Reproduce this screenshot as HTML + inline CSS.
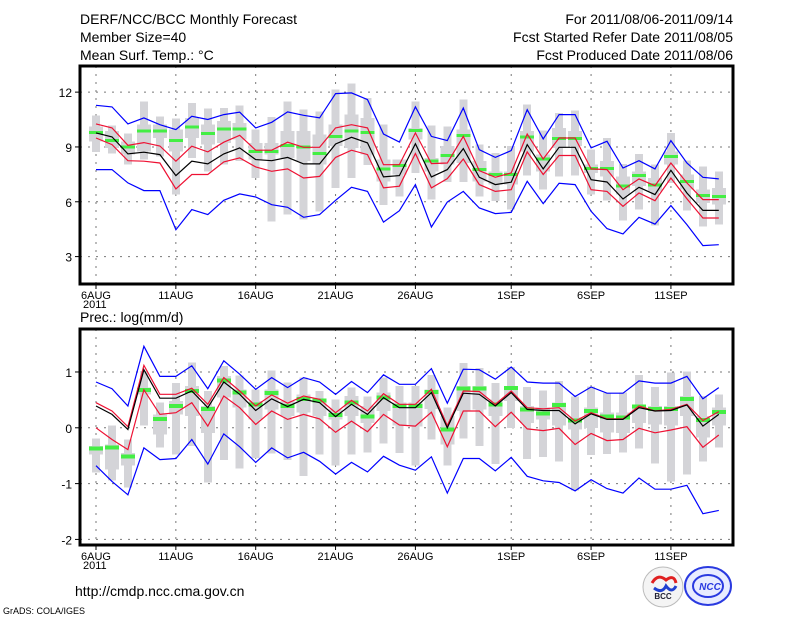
<!DOCTYPE html>
<html><head><meta charset="utf-8"><style>
body{margin:0;background:#fff;}
svg{display:block;font-family:"Liberation Sans",sans-serif;}
</style></head><body>
<svg id="chart" width="800" height="618" viewBox="0 0 800 618">
<text x="80" y="24" font-size="14">DERF/NCC/BCC Monthly Forecast</text>
<text x="80" y="42" font-size="14">Member Size=40</text>
<text x="80" y="60" font-size="14">Mean Surf. Temp.: °C</text>
<text x="733" y="24" font-size="14" text-anchor="end">For 2011/08/06-2011/09/14</text>
<text x="733" y="42" font-size="14" text-anchor="end">Fcst Started Refer Date 2011/08/05</text>
<text x="733" y="60" font-size="14" text-anchor="end">Fcst Produced Date 2011/08/06</text>
<text x="80" y="322" font-size="14">Prec.: log(mm/d)</text>
<text x="75" y="596" font-size="14">http://cmdp.ncc.cma.gov.cn</text>
<text x="3" y="614" font-size="9">GrADS: COLA/IGES</text>
<g>
<circle cx="663" cy="587" r="20" fill="#f4f4f4" stroke="#bbb"/>
<path d="M652 583 q6 -10 14 -3 q8 -6 10 3" fill="none" stroke="#e02020" stroke-width="3"/>
<path d="M654 588 q8 6 12 -2 q6 8 10 0" fill="none" stroke="#2040d0" stroke-width="3"/>
<text x="663" y="599" font-size="8" font-weight="bold" text-anchor="middle" fill="#223">BCC</text>
</g>
<g>
<ellipse cx="708" cy="586" rx="23" ry="19" fill="#e8ecff" stroke="#2a3ae0" stroke-width="2"/>
<ellipse cx="708" cy="586" rx="15" ry="11" fill="none" stroke="#2a3ae0" stroke-width="2"/>
<text x="710" y="590" font-size="10" font-weight="bold" font-style="italic" text-anchor="middle" fill="#2a3ae0">NCC</text>
</g>
<g id="plots"></g>
</svg>
<script>
// ---- data (day index 0 = 6AUG 2011) ----
const dayLabels = ["6AUG","11AUG","16AUG","21AUG","26AUG","1SEP","6SEP","11SEP"];
const labelDays = [0,5,10,15,20,26,31,36];
const tTicks = [3,6,9,12];
const pTicks = [-2,-1,0,1];
// Temperature
const tMean = [9.77,9.55,8.62,8.71,8.58,7.43,8.22,8.07,8.62,8.95,8.31,8.25,8.43,8.07,8.07,9.16,9.53,9.22,7.36,7.43,9.18,7.36,7.76,8.91,7.34,6.94,7.07,9.13,7.80,8.98,8.98,7.21,7.08,6.15,6.79,6.39,7.72,6.48,5.53,5.53];
const tRedHi = [10.26,10.04,9.09,9.24,9.05,8.22,9.04,8.73,9.26,9.64,8.82,8.82,9.26,8.98,8.98,10.04,10.22,10.04,8.03,8.03,9.77,8.09,8.12,9.58,7.7,7.34,7.58,9.71,8.34,9.49,9.49,7.8,7.76,6.66,7.25,6.88,8.12,7.03,6.12,6.12];
const tRedLo = [9.49,9.13,8.25,8.22,8.12,6.70,7.49,7.49,8.18,8.40,7.91,7.67,7.80,7.30,7.39,8.43,8.82,8.58,6.76,6.85,8.64,6.76,7.27,8.34,6.94,6.57,6.66,8.73,7.49,8.53,8.53,6.66,6.57,5.75,6.48,6.06,7.30,6.17,5.11,5.11];
const tBlueHi = [11.28,11.19,10.26,10.59,10.22,9.95,10.68,10.5,10.77,10.9,10.04,10.35,10.92,10.73,10.59,11.92,11.96,11.59,9.71,9.27,11.19,9.58,9.35,11.13,8.85,8.43,8.8,11.04,9.44,10.77,10.77,8.95,9.31,7.85,8.25,7.8,9.35,8.12,7.34,7.25];
const tBlueLo = [7.76,7.76,7.03,6.61,6.61,4.47,5.57,5.30,6.08,6.43,6.26,5.84,5.7,5.15,5.30,6.08,6.79,6.57,4.89,5.51,6.94,4.62,5.99,6.57,5.66,5.35,5.42,7.12,5.90,7.01,6.94,5.48,4.53,4.24,5.15,4.78,5.79,4.75,3.6,3.65];
const tMedian = [9.8,9.36,9.0,9.86,9.86,9.36,10.1,9.73,9.99,9.99,8.76,8.76,9.09,9.0,8.64,9.58,9.86,9.8,7.78,7.98,9.91,8.22,8.54,9.64,7.76,7.49,7.49,9.55,8.34,9.47,9.47,7.81,7.81,6.85,7.43,6.92,8.49,7.12,6.35,6.28];
const tMax = [10.72,10.17,9.73,11.5,10.68,10.55,11.41,11.1,11.13,11.26,9.95,10.64,11.5,11.04,10.95,12.14,12.47,11.68,10.22,8.31,11.5,10.17,10.13,11.59,9.13,8.67,9.04,11.32,9.89,10.86,10.99,8.85,9.49,8.07,8.62,8.03,9.77,8.25,7.92,7.65];
const tMin = [8.71,8.64,8.03,8.31,8.49,6.39,8.4,7.67,8.03,8.22,7.3,4.93,5.3,5.02,5.48,6.76,7.3,8.0,5.81,6.3,7.58,6.12,7.08,7.07,6.3,6.03,5.57,7.45,6.66,7.39,7.45,6.39,6.06,4.97,5.57,4.71,7.03,5.51,4.66,4.75];
const tQ75 = [10.13,9.86,9.31,10.22,10.22,9.95,10.59,10.22,10.41,10.31,9.22,9.22,9.86,9.86,9.68,10.22,10.77,10.59,8.31,8.31,10.04,8.4,9.04,9.95,8.22,7.67,7.67,9.86,8.58,10.04,9.86,8.03,8.22,7.39,7.67,7.3,8.76,7.49,6.66,6.76];
const tQ25 = [9.31,8.95,8.58,8.76,9.49,8.76,9.49,9.13,9.22,9.4,8.31,8.58,8.4,8.22,8.03,9.04,8.95,8.58,7.12,7.49,9.4,7.67,8.03,8.12,7.12,6.94,6.94,8.76,7.67,8.95,9.04,7.58,7.39,6.39,6.85,6.57,8.03,6.66,5.93,5.84];
// Precipitation
const pMean = [0.39,0.24,-0.03,1.04,0.53,0.53,0.66,0.36,0.82,0.6,0.31,0.52,0.38,0.51,0.45,0.2,0.42,0.24,0.54,0.36,0.36,0.63,0.0,0.62,0.6,0.39,0.63,0.33,0.31,0.31,0.07,0.25,0.15,0.15,0.36,0.3,0.31,0.41,0.03,0.24];
const pRedHi = [0.45,0.3,0.02,1.12,0.6,0.6,0.71,0.42,0.9,0.66,0.39,0.59,0.44,0.57,0.51,0.27,0.49,0.3,0.61,0.42,0.42,0.69,0.04,0.66,0.65,0.42,0.66,0.36,0.34,0.36,0.12,0.27,0.16,0.16,0.39,0.3,0.33,0.42,0.13,0.29];
const pRedLo = [0.0,-0.21,-0.39,0.68,0.24,0.27,0.45,0.03,0.57,0.36,0.06,0.3,0.15,0.24,0.16,-0.08,0.12,-0.07,0.24,0.05,0.03,0.28,-0.34,0.3,0.3,0.02,0.28,-0.02,-0.05,-0.01,-0.3,-0.1,-0.23,-0.21,-0.01,-0.09,-0.04,0.02,-0.35,-0.13];
const pBlueHi = [0.82,0.7,0.39,1.46,0.92,0.92,1.11,0.7,1.2,0.96,0.69,0.9,0.72,0.9,0.82,0.6,0.83,0.63,0.95,0.78,0.78,1.06,0.44,1.05,1.04,0.87,1.09,0.82,0.8,0.8,0.56,0.73,0.62,0.62,0.84,0.8,0.8,0.92,0.52,0.72];
const pBlueLo = [-0.68,-0.96,-1.2,-0.36,-0.57,-0.55,-0.21,-0.65,-0.11,-0.34,-0.62,-0.36,-0.54,-0.44,-0.6,-0.83,-0.62,-0.79,-0.51,-0.67,-0.76,-0.52,-1.17,-0.55,-0.55,-0.77,-0.53,-0.87,-0.95,-0.98,-1.13,-0.93,-1.09,-1.17,-0.9,-1.1,-1.1,-1.03,-1.54,-1.48];
const pMedian = [-0.37,-0.35,-0.51,0.68,0.16,0.39,0.66,0.34,0.85,0.63,0.42,0.62,0.39,0.52,0.49,0.23,0.45,0.2,0.54,0.39,0.39,0.64,-0.03,0.7,0.7,0.42,0.71,0.33,0.26,0.41,0.13,0.3,0.2,0.18,0.38,0.34,0.34,0.52,0.14,0.28];
const pMax = [-0.19,0.04,-0.21,1.02,0.45,0.8,1.17,0.66,1.11,0.94,0.69,1.03,0.81,0.9,0.66,0.51,0.72,0.56,0.9,0.75,0.75,0.95,0.36,1.16,1.07,0.8,1.09,0.73,0.67,0.84,0.56,0.74,0.62,0.63,0.95,0.73,0.99,1.01,0.57,0.6];
const pMin = [-0.8,-0.94,-1.07,0.04,-0.35,-0.48,-0.33,-0.98,-0.58,-0.73,-0.54,-0.46,-0.58,-0.86,-0.48,-0.68,-0.48,-0.44,-0.28,-0.45,-0.68,-0.21,-0.68,-0.19,-0.33,-0.65,0.0,-0.56,-0.52,-0.6,-1.12,-0.49,-0.47,-0.44,-0.37,-0.64,-0.96,-0.84,-0.6,-0.35];
const pQ75 = [-0.33,-0.30,-0.45,0.72,0.24,0.48,0.75,0.39,0.93,0.69,0.48,0.69,0.48,0.6,0.51,0.33,0.57,0.39,0.63,0.45,0.45,0.69,0.21,0.75,0.75,0.51,0.75,0.39,0.36,0.45,0.18,0.36,0.27,0.27,0.42,0.39,0.39,0.57,0.21,0.36];
const pQ25 = [-0.48,-0.75,-0.68,0.6,-0.12,0.24,0.21,-0.09,0.54,0.36,0.15,0.33,0.21,0.27,0.21,0.15,0.21,0.09,0.3,0.04,0.02,0.34,-0.3,0.3,0.33,0.21,0.48,0.09,0.15,0.04,-0.03,0.0,-0.08,-0.09,0.09,0.06,0.04,0.21,-0.17,0.04];

const NS="http://www.w3.org/2000/svg";
const root=document.getElementById('plots');
function el(tag,attrs,parent){const e=document.createElementNS(NS,tag);for(const k in attrs)e.setAttribute(k,attrs[k]);(parent||root).appendChild(e);return e;}
const xDay=d=>96+d*15.97;

function panel(cfg){
  const {top,bottom,vmin,vmax,ticks,name,series,thick}=cfg;
  const y=v=>bottom-(v-vmin)/(vmax-vmin)*(bottom-top);
  const g=el('g',{});
  
  
  // grid
  ticks.forEach(t=>{
    const l=el('line',{x1:80,x2:733,y1:y(t),y2:y(t),stroke:'#777','stroke-dasharray':'2,6','stroke-width':1},g);
    
    
    const tk=el('line',{x1:75,x2:80,y1:y(t),y2:y(t),stroke:'#000'},g);
    
    
    const tx=el('text',{x:72,y:y(t)+5,'font-size':12,'text-anchor':'end'},g);
    tx.textContent=t;
    
    
  });
  labelDays.forEach((d,i)=>{
    const l=el('line',{x1:xDay(d),x2:xDay(d),y1:top,y2:bottom,stroke:'#777','stroke-dasharray':'2,6'},g);
    
    
    const tk=el('line',{x1:xDay(d),x2:xDay(d),y1:bottom,y2:bottom+5,stroke:'#000'},g);
    
    
    const tx=el('text',{x:xDay(d),y:bottom+15,'font-size':11,'text-anchor':'middle'},g);
    tx.textContent=dayLabels[i];
    
    
  });
  const yr=el('text',{x:xDay(0)-13,y:bottom+24,'font-size':11},g);
  yr.textContent='2011';
  
  
  // boxes
  const s=series;
  s.max.forEach((_,i)=>{
    const x=xDay(i);
    const r1=el('rect',{x:x-4,y:y(s.max[i]),width:8,height:y(s.min[i])-y(s.max[i]),fill:'#d4d4d8','shape-rendering':'crispEdges'},g);
    
    
    const r2=el('rect',{x:x-7,y:y(s.q75[i]),width:14,height:y(s.q25[i])-y(s.q75[i]),fill:'#d4d4d8','shape-rendering':'crispEdges'},g);
    
    
  });
  s.med.forEach((v,i)=>{
    const m=el('rect',{x:xDay(i)-7,y:y(v)-thick/2,width:14,height:thick,fill:'#44ee44','shape-rendering':'crispEdges'},g);
    
    
  });
  const line=(arr,col,nm)=>{
    const p=el('polyline',{points:arr.map((v,i)=>xDay(i).toFixed(1)+','+y(v).toFixed(1)).join(' '),fill:'none',stroke:col,'stroke-width':1.2},g);
    
    
  };
  line(s.bhi,'#0000ff','blue-upper-line');
  line(s.blo,'#0000ff','blue-lower-line');
  line(s.rhi,'#ee1133','red-upper-line');
  line(s.rlo,'#ee1133','red-lower-line');
  line(s.mean,'#000','ensemble-mean-line');
  const f=el('rect',{x:80,y:top,width:653,height:bottom-top,fill:'none',stroke:'#000','stroke-width':3},g);
  
  
}
panel({top:66,bottom:284,vmin:1.5,vmax:13.43,ticks:tTicks,name:'temperature-panel',thick:3,
  series:{mean:tMean,rhi:tRedHi,rlo:tRedLo,bhi:tBlueHi,blo:tBlueLo,med:tMedian,max:tMax,min:tMin,q75:tQ75,q25:tQ25}});
panel({top:329,bottom:545,vmin:-2.1,vmax:1.77,ticks:pTicks,name:'precipitation-panel',thick:4,
  series:{mean:pMean,rhi:pRedHi,rlo:pRedLo,bhi:pBlueHi,blo:pBlueLo,med:pMedian,max:pMax,min:pMin,q75:pQ75,q25:pQ25}});
</script>
</body></html>
